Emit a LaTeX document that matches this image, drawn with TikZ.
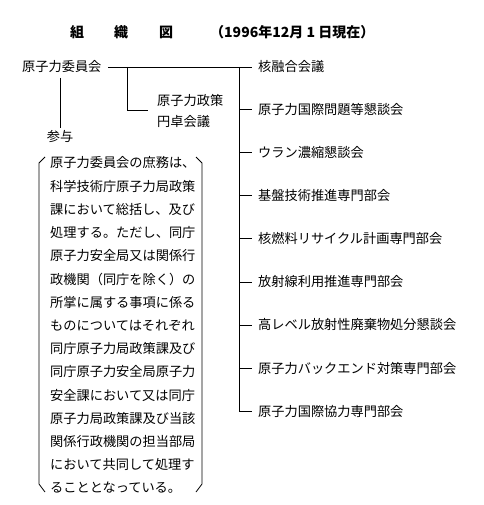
\documentclass[tikz,border=0pt]{standalone}
\usepackage{fontspec}
\newfontfamily\jp{Noto Sans CJK JP}
\begin{document}
\begin{tikzpicture}[x=1pt,y=-1pt,
  every node/.style={inner sep=0pt,font=\jp\fontsize{13.2}{14}\selectfont},
  txt/.style={anchor=west},
  ln/.style={line width=0.8pt},
  ttl/.style={font=\jp\bfseries\fontsize{14}{14}\selectfont}]
\useasboundingbox (0,0) rectangle (483,505);
% title
\node[ttl] (t1) at (77,32) {組};
\node[ttl] (t2) at (121,32) {織};
\node[ttl] (t3) at (166,32) {図};
\node[ttl,txt] (t4) at (210,32) {（1996年12月 1 日現在）};
% main
\node[txt] (aec) at (22,67) {原子力委員会};
\coordinate (h0) at (108,67);
\coordinate (hb) at (127,67);
\coordinate (vr) at (239,67);
\node[txt] (p1) at (157,100) {原子力政策};
\node[txt] (p2) at (157,122) {円卓会議};
\coordinate (pb) at (148,110);
\node[txt] (i1) at (258,67) {核融合会議};
\node[txt] (i2) at (258,109) {原子力国際問題等懇談会};
\node[txt] (i3) at (258,152) {ウラン濃縮懇談会};
\node[txt] (i4) at (258,195) {基盤技術推進専門部会};
\node[txt] (i5) at (258,238) {核燃料リサイクル計画専門部会};
\node[txt] (i6) at (258,282) {放射線利用推進専門部会};
\node[txt] (i7) at (258,325) {高レベル放射性廃棄物処分懇談会};
\node[txt] (i8) at (258,368) {原子力バックエンド対策専門部会};
\node[txt] (i9) at (258,411) {原子力国際協力専門部会};
\draw[ln] (h0) -- ([xshift=-6pt]i1.west);
\draw[ln] (vr) |- ([xshift=-6pt]i9.west);
\foreach \k in {2,...,8} \draw[ln] (vr |- i\k.west) -- ([xshift=-6pt]i\k.west);
\draw[ln] (hb) |- (pb);
% sanyo
\node (sy) at (60,137) {参与};
\coordinate (s0) at (60,78);
\coordinate (s1) at (60,128);
\draw[ln] (s0) -- (s1);
% bracket
\draw[ln] (45,157) -- (39,163) -- (39,484) -- (45,492);
\draw[ln] (196,157) -- (202,163) -- (202,484) -- (196,492);
\foreach \t [count=\i] in {原子力委員会の庶務は、,科学技術庁原子力局政策,課において総括し、及び,処理する。ただし、同庁,原子力安全局又は関係行,政機関（同庁を除く）の,所掌に属する事項に係る,ものについてはそれぞれ,同庁原子力局政策課及び,同庁原子力安全局原子力,安全課において又は同庁,原子力局政策課及び当該,関係行政機関の担当部局,において共同して処理す,ることとなっている。}
  \node[txt] (n\i) at (50,{163+23.2*(\i-1)}) {\t};
\end{tikzpicture}
\end{document}
